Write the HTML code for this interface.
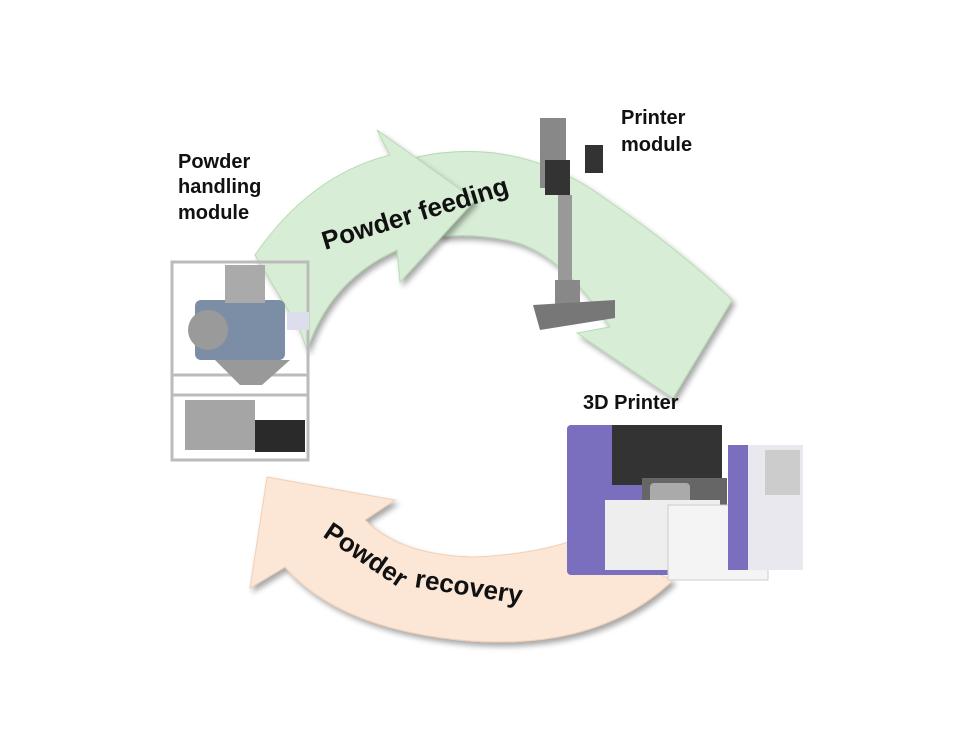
<!DOCTYPE html>
<html><head><meta charset="utf-8"><style>
html,body{margin:0;padding:0;background:#fff}
svg{display:block}
text{font-family:"Liberation Sans",Arial,sans-serif;font-weight:bold;fill:#111}
</style></head><body>
<svg width="960" height="750" viewBox="0 0 960 750" xmlns="http://www.w3.org/2000/svg">
<defs>
<filter id="sh" x="-10%" y="-10%" width="130%" height="130%"><feGaussianBlur in="SourceAlpha" stdDeviation="3"/><feOffset dx="3" dy="4"/><feComponentTransfer><feFuncA type="linear" slope="0.35"/></feComponentTransfer><feMerge><feMergeNode/><feMergeNode in="SourceGraphic"/></feMerge></filter>
</defs>
<path filter="url(#sh)" d="M417,157 Q520,135 607,200 Q680,250 732,300 L673,398 L577,333 L610,327 Q560,250 507,240 Q470,233 440,237 Z" fill="#d8edd6" stroke="#b6dcb2" stroke-width="1"/>
<path filter="url(#sh)" d="M255,255 Q310,175 390,155 L377,130 L475,200 L400,282 L397,250 Q330,280 307,350 L300,330 Z" fill="#d8edd6" stroke="#b6dcb2" stroke-width="1"/>
<path filter="url(#sh)" d="M673,580 Q600,650 470,641 Q340,630 285,567 L250,588 L267,477 L395,500 L365,520 Q400,555 473,557 Q530,555 575,540 Z" fill="#fce6d6" stroke="#f3cfb4" stroke-width="1"/>
<text x="0" y="0" font-size="26" transform="translate(325,250) rotate(-17)">Powder feeding</text>
<text x="0" y="0" font-size="26" transform="translate(322,536) rotate(34)">Powder</text>
<text x="0" y="0" font-size="26" transform="translate(414,587) rotate(9)">recovery</text>
<text x="178" y="168" font-size="20">Powder</text>
<text x="178" y="193" font-size="20">handling</text>
<text x="178" y="219" font-size="20">module</text>
<text x="621" y="124" font-size="20">Printer</text>
<text x="621" y="151" font-size="20">module</text>
<text x="583" y="409" font-size="20">3D Printer</text>
<g stroke="#888" fill="none" stroke-width="3">
<rect x="172" y="262" width="136" height="198" stroke="#bbb"/>
<line x1="172" y1="375" x2="308" y2="375" stroke="#bbb"/>
<line x1="172" y1="395" x2="308" y2="395" stroke="#bbb"/>
</g>
<rect x="195" y="300" width="90" height="60" fill="#7c8ea6" rx="6"/>
<circle cx="208" cy="330" r="20" fill="#9a9a9a"/>
<rect x="225" y="265" width="40" height="38" fill="#aaa"/>
<rect x="287" y="312" width="22" height="18" fill="#dde"/>
<path d="M215,360 L290,360 L262,385 L240,385 Z" fill="#999"/>
<rect x="185" y="400" width="70" height="50" fill="#a5a5a5"/>
<rect x="255" y="420" width="50" height="32" fill="#2a2a2a"/>
<rect x="540" y="118" width="26" height="70" fill="#888"/>
<rect x="545" y="160" width="25" height="35" fill="#333"/>
<rect x="585" y="145" width="18" height="28" fill="#333"/>
<rect x="558" y="195" width="14" height="90" fill="#999"/>
<rect x="555" y="280" width="25" height="25" fill="#888"/>
<path d="M533,305 L615,300 L615,318 L540,330 Z" fill="#777"/>
<rect x="567" y="425" width="155" height="150" fill="#7a6fbf" rx="4"/>
<rect x="612" y="425" width="110" height="60" fill="#333"/>
<rect x="642" y="478" width="85" height="55" fill="#666"/>
<rect x="650" y="483" width="40" height="30" fill="#aaa" rx="4"/>
<rect x="605" y="500" width="115" height="70" fill="#eee"/>
<rect x="668" y="505" width="100" height="75" fill="#f4f4f4" stroke="#ccc"/>
<rect x="728" y="445" width="75" height="125" fill="#e8e8ee"/>
<rect x="728" y="445" width="20" height="125" fill="#7a6fbf"/>
<rect x="765" y="450" width="35" height="45" fill="#ccc"/>
</svg>
</body></html>
